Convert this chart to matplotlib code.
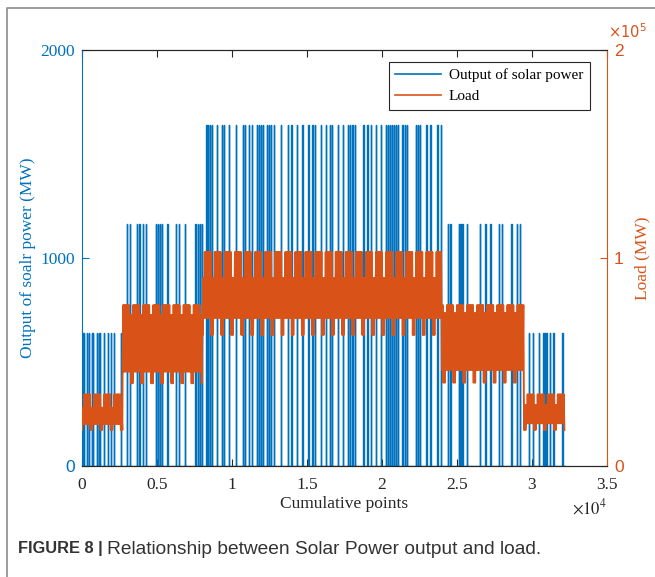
import matplotlib
matplotlib.use("Agg")
import matplotlib.pyplot as plt
from matplotlib.lines import Line2D
from matplotlib.ticker import FuncFormatter

# ------------------------------------------------------------
# DATA
# ------------------------------------------------------------

# solar output: spikes from 0 up to a level that changes by season block
solar_levels = [640, 1165, 1640, 1165, 640]
solar_spikes = [
    [67, 133, 333, 467, 667, 733, 1000, 1133, 1200, 1467, 1733, 1933, 2133, 2600],
    [3020, 3200, 3667, 3833, 4067, 4267, 4933, 5067, 5200, 5333, 5700, 6267,
     6467, 6867, 7567, 7733, 7867, 7980],
    [8300, 8400, 8533, 8667, 9000, 9333, 9467, 9800, 10267, 10733, 10867, 11133,
     11333, 11667, 11800, 11933, 12067, 12333, 12467, 12600, 12800, 13267, 13733,
     13967, 14333, 14700, 15100, 15367, 15533, 15933, 16267, 16533, 16667, 17067,
     17400, 17733, 17867, 18033, 18200, 18767, 19033, 19267, 19600, 19933, 20267,
     20400, 20533, 20667, 20800, 20933, 21067, 21367, 21533, 21667, 22267, 22400,
     22533, 22967, 23233, 23700, 23933],
    [24400, 24567, 25133, 25233, 25367, 25667, 26533, 26900, 27233, 27800, 28000,
     28633, 29000, 29200],
    [29800, 30067, 30467, 30767, 30867, 30967, 31200, 31433, 32033],
]
solar_end = 32200

# load: block boundaries and the band levels in each block
load_bounds = [0, 2700, 8040, 24000, 29470, 32160]
load_peak = [34470, 77400, 102900, 77400, 34470]    # weekday highs
load_top = [28030, 72600, 90400, 73560, 29330]      # weekend highs
load_low = [20190, 45340, 71160, 46160, 20530]      # weekday lows
load_dip = [17310, 39760, 62980, 40050, 17310]      # weekend lows
week_len = 672
weekend_len = 192
weekend_start = 540
half_day = 48

x_ticks = [0, 5000, 10000, 15000, 20000, 25000, 30000, 35000]
left_ticks = [0, 1000, 2000]
right_ticks = [0, 100000, 200000]

BLUE = "#0072BD"
ORANGE = "#D95319"
DARK = "#262626"


# ------------------------------------------------------------
# SERIES
# ------------------------------------------------------------

def build_solar():
    xs, ys = [0], [0]
    for level, spikes in zip(solar_levels, solar_spikes):
        for c in spikes:
            xs += [c - 12, c - 12, c + 12, c + 12]
            ys += [0, level, level, 0]
    xs.append(solar_end)
    ys.append(0)
    return xs, ys


def build_load():
    xs, ys = [], []
    for seg in range(len(load_bounds) - 1):
        x = load_bounds[seg]
        i = 0
        while x <= load_bounds[seg + 1]:
            weekend = ((x - weekend_start) % week_len) < weekend_len
            if i % 2 == 0:
                v = load_dip[seg] if weekend else load_low[seg]
            else:
                v = load_top[seg] if weekend else load_peak[seg]
            xs.append(x)
            ys.append(v)
            x += half_day
            i += 1
    return xs, ys


sx, sy = build_solar()
lx, ly = build_load()

# ------------------------------------------------------------
# FIGURE
# ------------------------------------------------------------

serif = "Liberation Serif"
sans = "Liberation Sans"
plt.rcParams["font.family"] = serif
plt.rcParams["mathtext.fontset"] = "stix"

fig = plt.figure(figsize=(6.55, 5.77), dpi=100)
ax = fig.add_axes([82 / 655, 111 / 577, 525 / 655, 416 / 577])
ax2 = ax.twinx()

ax.plot(sx, sy, color=BLUE, lw=1.0)
ax2.plot(lx, ly, color=ORANGE, lw=1.4)

ax.set_xlim(0, 35000)
ax.set_ylim(0, 2000)
ax2.set_ylim(0, 200000)

ax.set_xticks(x_ticks)
ax.xaxis.set_major_formatter(FuncFormatter(lambda v, p: f"{v / 1e4:g}"))
ax.set_yticks(left_ticks)
ax2.set_yticks(right_ticks)
ax2.yaxis.set_major_formatter(FuncFormatter(lambda v, p: f"{v / 1e5:g}"))

ax.tick_params(axis="x", direction="in", top=True, length=5, labelsize=12.5,
               colors=DARK, pad=8)
ax.tick_params(axis="y", direction="in", length=5, labelsize=12.5,
               colors=BLUE, pad=5)
ax2.tick_params(axis="y", direction="in", length=5, labelsize=12.5,
                colors=ORANGE, pad=5)
for lab in ax2.get_yticklabels():
    lab.set_fontfamily(sans)
ax.get_yticklabels()[0].set_fontfamily(sans)

for a in (ax, ax2):
    a.spines["top"].set_color(DARK)
    a.spines["bottom"].set_color(DARK)
    a.spines["left"].set_color(BLUE)
    a.spines["right"].set_color(ORANGE)
    for s in a.spines.values():
        s.set_linewidth(0.8)
ax.spines["right"].set_visible(False)
ax2.spines["left"].set_visible(False)

ax.set_xlabel("Cumulative points", fontsize=12.5, color=DARK, labelpad=2)
ax.set_ylabel("Output of soalr power (MW)", fontsize=12.5, color=BLUE, labelpad=3)
ax2.set_ylabel("Load (MW)", fontsize=12.5, color=ORANGE, labelpad=8)

ax.text(1.0, -0.1, r"$\times10^{4}$", transform=ax.transAxes, ha="right",
        va="center", fontsize=12, color=DARK)
ax2.text(1.002, 1.022, r"$\times10^{5}$", transform=ax2.transAxes, ha="left",
         va="bottom", fontsize=10.5, color=ORANGE, family=sans,
         math_fontfamily="dejavusans")

handles = [Line2D([], [], color=BLUE, lw=1.2), Line2D([], [], color=ORANGE, lw=1.2)]
leg = ax2.legend(handles, ["Output of solar power", "Load"], loc="upper right",
                 bbox_to_anchor=(0.968, 0.972), borderaxespad=0, fontsize=11,
                 fancybox=False, framealpha=1, edgecolor=DARK, handlelength=3.0,
                 borderpad=0.45, labelspacing=0.45, handletextpad=0.5)
leg.get_frame().set_linewidth(0.8)

# panel border of the journal figure
fig.add_artist(Line2D([7 / 655, 7 / 655, 1.0], [0.0, 1 - 8 / 577, 1 - 8 / 577],
                      transform=fig.transFigure, color="#8c8c8c", lw=1.2))

fig.text(18 / 655, 1 - 549 / 577, "FIGURE 8 |", family=sans, fontweight="bold",
         fontsize=11.8, color="#333333", va="center")
fig.text(107 / 655, 1 - 549 / 577, "Relationship between Solar Power output and load.",
         family=sans, fontsize=13.8, color="#333333", va="center")

fig.savefig("out.png", dpi=100)
